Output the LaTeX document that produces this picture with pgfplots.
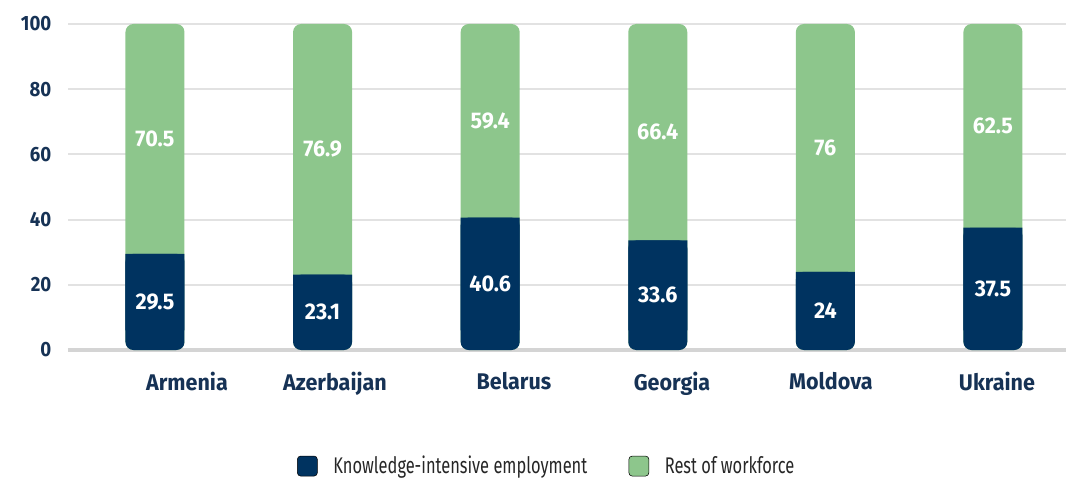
\documentclass[border=0pt]{standalone}
\usepackage{pgfplots}
\pgfplotsset{compat=1.18}
\usepackage{fontspec}
\setmainfont{Fira Sans}
\newfontfamily\tickfont{Fira Sans}[FakeStretch=0.9]
\newfontfamily\catfont{Fira Sans}[FakeStretch=0.95]
\newfontfamily\legfont{Fira Sans}[FakeStretch=0.725]
\definecolor{navy}{RGB}{0,51,96}
\definecolor{lgreen}{RGB}{141,198,140}
\definecolor{ticknavy}{RGB}{22,50,85}
\definecolor{gridgray}{RGB}{226,226,226}
\definecolor{basegray}{RGB}{212,212,212}
\pgfplotsset{base/.style={width=748.5pt, height=244.5pt, scale only axis,
  xmin=-0.519, xmax=5.436, ymin=0, ymax=100, enlargelimits=false, clip=false}}
\begin{document}
\begin{tikzpicture}
\useasboundingbox (-51pt,-96pt) rectangle (748.5pt,262.5pt);
\begin{axis}[base,
  axis line style={draw=none},
  major tick length=0pt,
  /pgf/number format/assume math mode=true,
  ytick={0,20,40,60,80,100},
  ymajorgrids,
  grid style={gridgray, line width=1.5pt},
  extra y ticks={0}, extra y tick labels={},
  extra y tick style={grid style={basegray, line width=2.4pt}},
  xtick={0.191,1.074,2.142,3.085,4.033,5.024},
  xticklabels={Armenia,Azerbaijan,Belarus,Georgia,Moldova,Ukraine},
  yticklabel style={font=\tickfont\bfseries\fontsize{15.5}{17}\selectfont, text=ticknavy, anchor=east, xshift=-9pt},
  xticklabel style={font=\catfont\bfseries\fontsize{17}{19}\selectfont, text=ticknavy, anchor=north, yshift=-13pt},
  legend image code/.code={\fill[#1, rounded corners=2.5pt] (0pt,-7.5pt) rectangle (15pt,7.5pt);},
  legend style={draw=none, fill=none, at={(0.4800,-0.356)}, anchor=center,
    legend columns=2, font=\legfont\fontsize{17}{19}\selectfont, text=black!85,
    /tikz/every odd column/.append style={column sep=9.75pt},
    /tikz/every even column/.append style={column sep=29pt}},
  legend cell align=left,
]
\addlegendimage{fill=navy}
\addlegendentry{Knowledge-intensive employment}
\addlegendimage{fill=lgreen}
\addlegendentry{Rest of workforce}
\addplot[ybar, bar width=44.25pt, bar shift=0pt, fill=lgreen, draw=none, rounded corners=6pt, forget plot]
  coordinates {(0,100)(1,100)(2,100)(3,100)(4,100)(5,100)};
\addplot[ybar, bar width=44.25pt, bar shift=0pt, fill=navy, draw=none, rounded corners=6pt, forget plot]
  coordinates {(0,29.5)(1,23.1)(2,40.6)(3,33.6)(4,24)(5,37.5)};
\end{axis}
\begin{axis}[base, hide axis, ybar stacked, bar width=44.25pt]
\addplot[draw=none, fill=none] coordinates {(0,6)(1,6)(2,6)(3,6)(4,6)(5,6)};
\addplot[fill=navy, draw=none] coordinates {(0,23.5)(1,17.1)(2,34.6)(3,27.6)(4,18)(5,31.5)};
\end{axis}
\begin{axis}[base, hide axis]
\addplot[draw=none, mark=none, nodes near coords, point meta=explicit symbolic,
  every node near coord/.style={anchor=center, text=white, font=\catfont\bfseries\fontsize{17}{19}\selectfont}]
  coordinates {(0,14.75)[29.5] (1,11.55)[23.1] (2,20.3)[40.6] (3,16.8)[33.6] (4,12)[24] (5,18.75)[37.5]
               (0,64.75)[70.5] (1,61.55)[76.9] (2,70.3)[59.4] (3,66.8)[66.4] (4,62)[76] (5,68.75)[62.5]};
\end{axis}
\end{tikzpicture}
\end{document}
